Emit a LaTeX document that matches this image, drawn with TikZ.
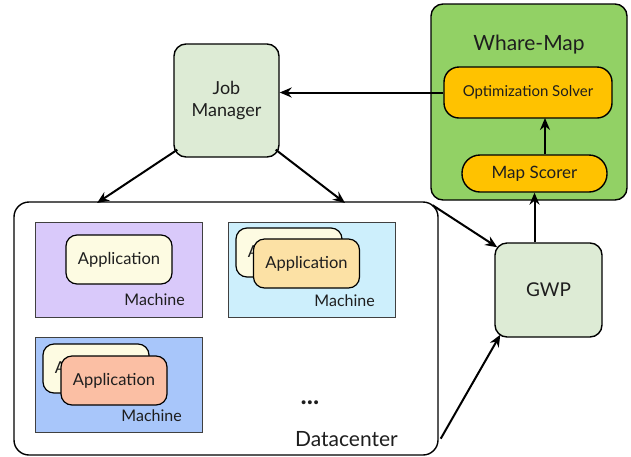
\documentclass[tikz,border=0pt]{standalone}
\usepackage{fontspec}
\setmainfont{Lato}
\usetikzlibrary{arrows.meta}
\definecolor{jmgreen}{HTML}{DDEBD5}
\definecolor{wmgreen}{HTML}{92D165}
\definecolor{solver}{HTML}{FFC200}
\definecolor{mlav}{HTML}{D9C9FA}
\definecolor{mcyan}{HTML}{CDEFFC}
\definecolor{mblue}{HTML}{A8C6FA}
\definecolor{appcream}{HTML}{FDFBE2}
\definecolor{appyel}{HTML}{FCE1A5}
\definecolor{appsal}{HTML}{FBBFA4}
\definecolor{txt}{HTML}{1E1E1E}
\begin{document}
\begin{tikzpicture}[x=1pt,y=-1pt,
  box/.style={draw=black,line width=1.4pt,rounded corners=12pt,inner sep=0pt,text=txt},
  mach/.style={draw=black!75,line width=1pt,inner sep=0pt},
  app/.style={draw=black,line width=1.2pt,rounded corners=11pt,minimum width=106pt,minimum height=49pt,inner sep=0pt,font=\fontsize{16.5}{18}\selectfont,text=txt},
  lbl/.style={font=\fontsize{16}{18}\selectfont,text=txt,inner sep=0pt},
  arr/.style={line width=2pt,-{Stealth[length=12pt,width=10pt]}}]
\useasboundingbox (0,0) rectangle (631,456);
% Datacenter
\node[box,rounded corners=15pt,fill=white,minimum width=424pt,minimum height=253pt] (DC) at (226,328.5) {};
\node[lbl,font=\fontsize{21}{23}\selectfont,anchor=base east] (dcl) at (398,446) {Datacenter};
\node[lbl,font=\fontsize{26}{26}\bfseries,anchor=base] (dots) at (310,404) {...};
% Machines
\node[mach,fill=mlav,minimum width=167pt,minimum height=95pt] (M1) at (118.5,269.5) {};
\node[mach,fill=mcyan,minimum width=167pt,minimum height=95pt] (M2) at (311.5,269.5) {};
\node[mach,fill=mblue,minimum width=167pt,minimum height=95pt] (M3) at (118.5,384.5) {};
\node[lbl,anchor=base east] (m1l) at (185,305) {Machine};
\node[lbl,anchor=base east] (m2l) at (375,306) {Machine};
\node[lbl,anchor=base east] (m3l) at (182,421) {Machine};
% Applications
\node[app,fill=appcream] (A1) at (119,259.5) {Application};
\node[app,fill=appcream] (A2b) at (289,252.5) {Application};
\node[app,fill=appyel] (A2) at (306.5,263.5) {Application};
\node[app,fill=appcream] (A3b) at (96,368.5) {Application};
\node[app,fill=appsal] (A3) at (114,380.5) {Application};
% Job manager
\node[box,fill=jmgreen,minimum width=105pt,minimum height=113pt,align=center,font=\fontsize{18}{22}\selectfont] (JM) at (226.5,100.5) {Job\\Manager};
% Whare-Map
\node[box,fill=wmgreen,minimum width=196pt,minimum height=196pt] (WM) at (529,102) {};
\node[lbl,font=\fontsize{21}{23}\selectfont,anchor=base] (wml) at (529,50) {Whare-Map};
\node[box,fill=solver,rounded corners=15pt,minimum width=168pt,minimum height=51pt,font=\fontsize{15}{17}\selectfont] (OS) at (528,92.5) {Optimization Solver};
\node[box,fill=solver,rounded corners=18pt,minimum width=145pt,minimum height=37pt,font=\fontsize{17}{19}\selectfont] (MS) at (534.5,173.5) {Map Scorer};
% GWP
\node[box,fill=jmgreen,minimum width=107pt,minimum height=94pt,font=\fontsize{19}{21}\selectfont] (GWP) at (548.5,290) {GWP};
% Arrows
\coordinate (d1) at (97,203);
\coordinate (d2) at (345,203);
\draw[arr] (OS.west) -- (OS.west -| JM.east);
\draw[arr] ([xshift=4pt,yshift=8pt]JM.south west) -- (d1);
\draw[arr] ([xshift=-4pt,yshift=8pt]JM.south east) -- (d2);
\draw[arr] ([xshift=-6pt,yshift=-4pt]DC.north east) -- ([xshift=3pt,yshift=-5pt]GWP.north west);
\draw[arr] ([xshift=2pt,yshift=17pt]DC.south east) -- ([xshift=6pt,yshift=3pt]GWP.south west);
\draw[arr] (GWP.north -| MS.south) -- (MS.south);
\draw[arr] (MS.north -| 545,0) -- (545,118);
\end{tikzpicture}
\end{document}
